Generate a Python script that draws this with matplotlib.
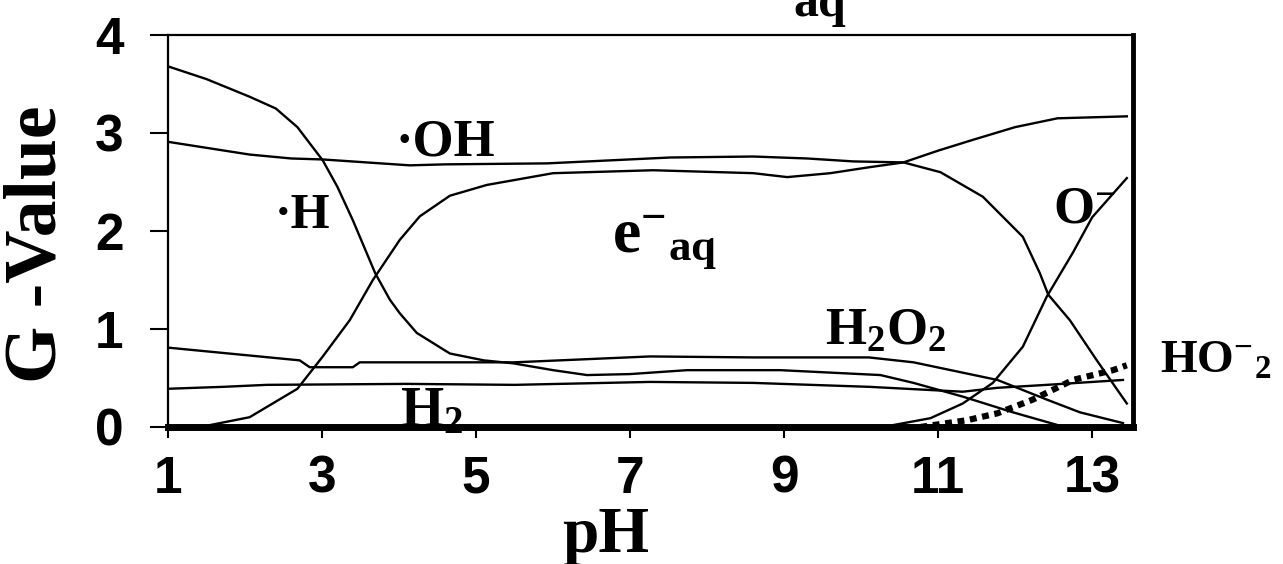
# G-values of water radiolysis products as a function of pH
import numpy as np
import matplotlib
matplotlib.use('Agg')
import matplotlib.pyplot as plt

plt.rcParams['mathtext.fontset'] = 'custom'
plt.rcParams['mathtext.rm'] = 'Liberation Serif:bold'
plt.rcParams['mathtext.bf'] = 'Liberation Serif:bold'
plt.rcParams['mathtext.it'] = 'Liberation Serif:bold'

ph_h = [1.0, 1.5, 2.06, 2.4, 2.68, 3.01, 3.2, 3.4, 3.69, 3.88, 4.01, 4.23, 4.66, 5.1, 5.48,
        6.0, 6.44, 7.0, 7.74, 8.4, 8.95, 9.73, 10.25, 10.68, 11.32, 11.97, 12.55]
g_h = [3.68, 3.55, 3.37, 3.25, 3.06, 2.72, 2.45, 2.11, 1.57, 1.3, 1.16, 0.96, 0.75, 0.68, 0.65,
       0.58, 0.53, 0.54, 0.58, 0.58, 0.58, 0.55, 0.53, 0.45, 0.31, 0.15, 0.02]

ph_oh = [1.0, 2.06, 2.6, 3.01, 4.14, 4.6, 5.92, 7.52, 8.6, 9.3, 9.9, 10.55, 11.03, 11.58,
         12.1, 12.32, 12.43, 12.71, 13.06, 13.45]
g_oh = [2.91, 2.78, 2.74, 2.73, 2.67, 2.68, 2.69, 2.75, 2.76, 2.74, 2.71, 2.70, 2.6, 2.35,
        1.94, 1.57, 1.35, 1.09, 0.68, 0.24]

ph_e = [1.0, 1.42, 2.06, 2.68, 3.01, 3.36, 3.66, 4.01, 4.27, 4.66, 5.14, 6.0, 7.3, 8.6, 9.04,
        9.6, 10.1, 10.55, 11.0, 11.45, 12.0, 12.55, 13.45]
g_e = [0.0, 0.0, 0.1, 0.39, 0.72, 1.09, 1.5, 1.91, 2.15, 2.36, 2.47, 2.59, 2.62, 2.59, 2.55,
       2.59, 2.65, 2.70, 2.82, 2.93, 3.06, 3.15, 3.17]

ph_h2o2 = [1.0, 2.71, 2.84, 3.4, 3.49, 4.66, 5.5, 7.26, 8.6, 10.1, 10.68, 11.77, 12.41, 12.84, 13.4]
g_h2o2 = [0.81, 0.68, 0.61, 0.61, 0.66, 0.66, 0.66, 0.72, 0.71, 0.71, 0.66, 0.48, 0.28, 0.15, 0.04]

ph_h2 = [1.0, 1.72, 2.28, 4.1, 5.5, 7.26, 8.6, 10.1, 11.32, 11.77, 12.41, 13.4]
g_h2 = [0.39, 0.41, 0.43, 0.44, 0.43, 0.46, 0.45, 0.41, 0.36, 0.40, 0.43, 0.48]

ph_o = [10.42, 10.9, 11.32, 11.71, 12.1, 12.41, 12.75, 13.0, 13.45]
g_o = [0.02, 0.09, 0.24, 0.45, 0.82, 1.33, 1.78, 2.14, 2.54]

ph_ho2 = [10.77, 11.38, 11.77, 12.23, 12.75, 13.27, 13.45]
g_ho2 = [0.0, 0.07, 0.14, 0.28, 0.48, 0.58, 0.63]

x_ticks = [1, 3, 5, 7, 9, 11, 13]
y_ticks = [0, 1, 2, 3, 4]

serif = 'Liberation Serif'
sans = 'Liberation Sans'

fig = plt.figure(figsize=(12.83, 5.64), dpi=100)
ax = fig.add_axes([168 / 1283, 137 / 564, 965 / 1283, 392 / 564])

for xs, ys in [(ph_h, g_h), (ph_oh, g_oh), (ph_e, g_e), (ph_h2o2, g_h2o2), (ph_h2, g_h2), (ph_o, g_o)]:
    ax.plot(xs, ys, color='black', lw=1.7)
ax.plot(ph_ho2, g_ho2, color='black', lw=4.5, linestyle=(0, (1.1, 0.9)))

ax.set_xlim(1, 13.53)
ax.set_ylim(0, 4)
ax.set_xticks(x_ticks)
ax.set_yticks(y_ticks)
ax.set_xticklabels([str(t) for t in x_ticks], fontsize=37, family=sans, weight='bold')
ax.set_yticklabels([str(t) for t in y_ticks], fontsize=37, family=sans, weight='bold')
ax.tick_params(axis='y', direction='out', length=13, width=1.5, pad=19)
ax.tick_params(axis='x', direction='out', length=8, width=1.5, pad=12)

ax.spines['left'].set_linewidth(1.6)
ax.spines['top'].set_linewidth(1.6)
ax.spines['right'].set_linewidth(3.5)
ax.spines['bottom'].set_linewidth(5)

# species labels
lab = dict(family=serif, weight='bold', color='black')
ax.text(4.6, 2.9, '·OH', fontsize=38, ha='center', va='center', **lab)
ax.text(2.75, 2.15, '·H', fontsize=36, ha='center', va='center', **lab)
ax.text(6.77, 1.79, r'$\mathbf{e^{-}{}_{aq}}$', fontsize=46, ha='left', va='baseline', **lab)
ax.text(12.49, 2.09, r'$\mathbf{O^{-}}$', fontsize=38, ha='left', va='baseline', **lab)
ax.text(9.53, 0.84, r'$\mathbf{H_2O_2}$', fontsize=38, ha='left', va='baseline', **lab)
ax.text(13.88, 0.55, r'$\mathbf{HO^{-}{}_2}$', fontsize=34, ha='left', va='baseline',
        clip_on=False, **lab)
ax.text(4.01, 0.01, r'$\mathbf{H_2}$', fontsize=40, ha='left', va='baseline', **lab)

# lower edge of the heading, running off the top of the page
fig.text(793 / 1283, 1 - 16 / 564, 'aq', fontsize=36, ha='left', va='baseline', **lab)

fig.text(38 / 1283, 1 - 244 / 564, 'G -Value', rotation=90, fontsize=53,
         ha='center', va='center', **lab)
fig.text(606 / 1283, 1 - 552 / 564, 'pH', fontsize=47, ha='center', va='baseline', **lab)

fig.savefig('out.png', dpi=100)
